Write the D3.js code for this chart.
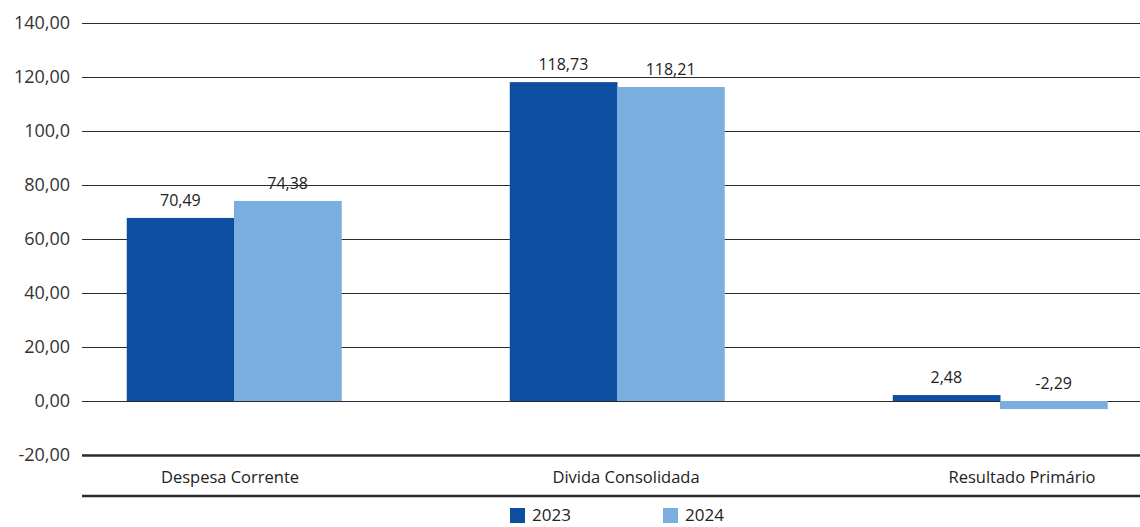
<!DOCTYPE html>
<html><head><meta charset="utf-8">
<script src="https://cdn.jsdelivr.net/npm/d3@7/dist/d3.min.js"></script>
<style>body{margin:0;background:#fff}svg{display:block}</style>
</head><body><div id="c"></div>
<script>
const categories = ["Despesa Corrente", "Divida Consolidada", "Resultado Primário"];
const seriesNames = ["2023", "2024"];
const values2023 = [67.8, 118.1, 2.2];
const values2024 = [74.1, 116.3, -3.0];
const labels2023 = ["70,49", "118,73", "2,48"];
const labels2024 = ["74,38", "118,21", "-2,29"];
const yTicks = [-20, 0, 20, 40, 60, 80, 100, 120, 140];
const yTickLabels = ["-20,00", "0,00", "20,00", "40,00", "60,00", "80,00", "100,0", "120,00", "140,00"];
const colors = ["#0d4ea1", "#7aaedf"];

const W = 1140, H = 527;
const svg = d3.select("#c").append("svg").attr("width", W).attr("height", H);
const font = "'Open Sans', Lato, sans-serif";
const y = d3.scaleLinear().domain([-20, 140]).range([455, 23]);
const x = d3.scaleBand().domain(categories).range([42.5, 1191.5]).padding(0);
const barW = x.step() * 0.28;
const xs = d3.scaleBand().domain(seriesNames).range([0, barW * 2]);
const xl = d3.scalePoint().domain(categories).range([230, 1022]);
const left = 82;

// gridlines
svg.append("g").selectAll("line").data(yTicks).join("line")
  .attr("x1", left).attr("x2", W)
  .attr("y1", d => Math.round(y(d)) + 0.5).attr("y2", d => Math.round(y(d)) + 0.5)
  .attr("stroke", "#2b2b2b").attr("stroke-width", d => d === -20 ? 2.5 : 1);
svg.append("line").attr("x1", left).attr("x2", W).attr("y1", 496).attr("y2", 496)
  .attr("stroke", "#2b2b2b").attr("stroke-width", 2.5);

// y tick labels
svg.append("g").selectAll("text").data(yTicks).join("text")
  .attr("x", 70).attr("y", d => y(d)).attr("dy", "0.35em").attr("text-anchor", "end")
  .attr("font-family", font).attr("font-size", 18).attr("fill", "#333")
  .text((d, i) => yTickLabels[i]);

const series = [values2023, values2024];
const labs = [labels2023, labels2024];
seriesNames.forEach((s, si) => {
  const g = svg.append("g");
  g.selectAll("rect").data(categories).join("rect")
    .attr("x", c => x(c) + x.bandwidth() / 2 - barW + xs(s))
    .attr("width", xs.bandwidth() + 0.5)
    .attr("y", (c, i) => y(Math.max(0, series[si][i])))
    .attr("height", (c, i) => Math.abs(y(series[si][i]) - y(0)))
    .attr("fill", colors[si]);
  g.selectAll("text").data(categories).join("text")
    .attr("x", c => x(c) + x.bandwidth() / 2 - barW + xs(s) + xs.bandwidth() / 2)
    .attr("y", (c, i) => y(Math.max(0, series[si][i])) - 12)
    .attr("text-anchor", "middle").attr("font-family", font).attr("font-size", 16).attr("fill", "#222")
    .text((c, i) => labs[si][i]);
});

// category labels
svg.append("g").selectAll("text").data(categories).join("text")
  .attr("x", c => xl(c)).attr("y", 483).attr("text-anchor", "middle")
  .attr("font-family", font).attr("font-size", 16.5).attr("fill", "#222").text(c => c);

// legend
const lg = svg.append("g");
const lx = d3.scalePoint().domain(seriesNames).range([510, 663]);
seriesNames.forEach((s, i) => {
  lg.append("rect").attr("x", lx(s)).attr("y", 508).attr("width", 15).attr("height", 15).attr("fill", colors[i]);
  lg.append("text").attr("x", lx(s) + 22).attr("y", 521).attr("font-family", font).attr("font-size", 17)
    .attr("fill", "#222").text(s);
});
</script></body></html>
